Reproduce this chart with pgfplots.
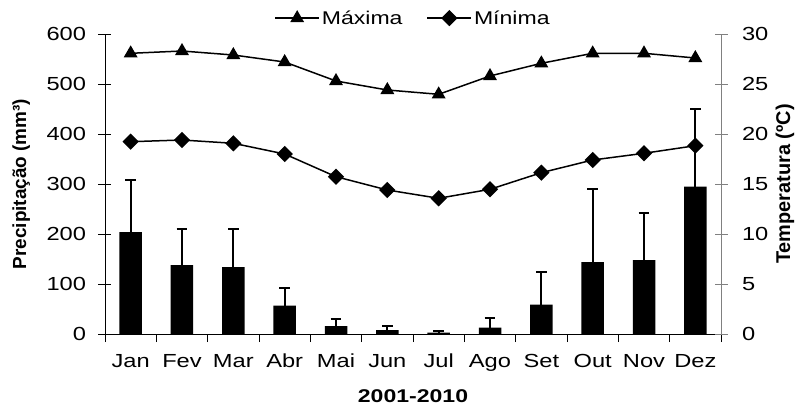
\documentclass[border=0pt]{standalone}
\usepackage{pgfplots}
\pgfplotsset{compat=1.18}
\usepackage{pgfplotstable}
\usepackage{fontspec}
\setmainfont[FakeStretch=1.25]{Liberation Sans}
\newfontfamily\vfont{Liberation Sans}

\pgfplotstableread{
x y e
1 204 104
2 138 73
3 134 77
4 57 36
5 16 15
6 8 8
7 3 3
8 13 20
9 59 66
10 144 146
11 148 94
12 295 156
}\prec

\pgfplotstableread{
x max min
1 28.07 19.23
2 28.30 19.40
3 27.90 19.07
4 27.20 18.00
5 25.30 15.73
6 24.40 14.40
7 23.97 13.57
8 25.80 14.47
9 27.07 16.13
10 28.07 17.40
11 28.07 18.07
12 27.60 18.83
}\temp

\begin{document}
\begin{tikzpicture}
\pgfplotsset{
  common/.style={
    scale only axis, width=616bp, height=300bp,
    at={(0,0)}, anchor=south west,
    xmin=0.5, xmax=12.5,
    tick align=center,
    /pgf/number format/assume math mode=true,
    tick label style={font=\fontsize{19}{22}\selectfont},
    major tick length=13bp,
  }
}
\begin{axis}[common,
  ymin=0, ymax=600,
  axis x line*=bottom, axis y line*=left,
  axis line style={black, line width=0.8bp},
  xtick={1,...,12},
  xticklabels={Jan,Fev,Mar,Abr,Mai,Jun,Jul,Ago,Set,Out,Nov,Dez},
  every major x tick/.append style={draw=none},
  minor xtick={0.5,1.5,...,12.5},
  minor tick length=8bp,
  every minor x tick/.append style={yshift=-4bp, black, line width=0.8bp},
  every major y tick/.append style={black, line width=0.8bp},
  ytick={0,100,...,600},
  xticklabel style={yshift=-10bp},
  yticklabel style={xshift=-9bp},
  ylabel={\vfont\bfseries\fontsize{19}{24}\selectfont Precipitação (mm³)},
  ylabel style={at={(axis description cs:-0.136,0.5)}, anchor=center, rotate=0},
  xlabel={\bfseries\fontsize{18.5}{22}\selectfont 2001-2010},
  xlabel style={at={(axis description cs:0.5,-0.208)}, anchor=center},
]
\addplot[ybar, bar width=22.5bp, bar shift=0pt, fill=black, draw=none,
  error bars/.cd, y dir=plus, y explicit,
  error bar style={line width=2.2bp, black, solid},
  error mark options={rotate=90, line width=2bp, mark size=5.3bp, black, solid}]
  table[x=x, y=y, y error=e]{\prec};
\end{axis}
\begin{axis}[common,
  ymin=0, ymax=30,
  axis x line=none, axis y line*=right,
  axis line style={gray, line width=0.8bp},
  every major y tick/.append style={gray, line width=0.8bp},
  ytick={0,5,...,30},
  yticklabel style={xshift=11bp},
  ylabel={\vfont\bfseries\fontsize{20}{24}\selectfont Temperatura (ºC)},
  ylabel style={at={(axis description cs:1.104,0.5)}, anchor=center},
  legend columns=2,
  legend style={at={(axis description cs:0.5,1.053)}, anchor=center, draw=none, fill=none,
    font=\fontsize{18.5}{20}\selectfont,
    /tikz/every even column/.append style={column sep=22bp}},
  legend image code/.code={\draw[mark repeat=2, mark phase=2, #1] plot coordinates {(0bp,0bp) (22bp,0bp) (44bp,0bp)};},
]
\addplot[black, line width=1.5bp, mark=triangle*, mark size=6.5bp, mark options={solid}] table[x=x, y=max]{\temp};
\addlegendentry{Máxima}
\addplot[black, line width=1.5bp, mark=square*, mark size=5bp, mark options={rotate=45, solid}] table[x=x, y=min]{\temp};
\addlegendentry{Mínima}
\end{axis}
\pgfresetboundingbox
\useasboundingbox (-105bp,-78bp) rectangle (692bp,334bp);
\end{tikzpicture}
\end{document}
